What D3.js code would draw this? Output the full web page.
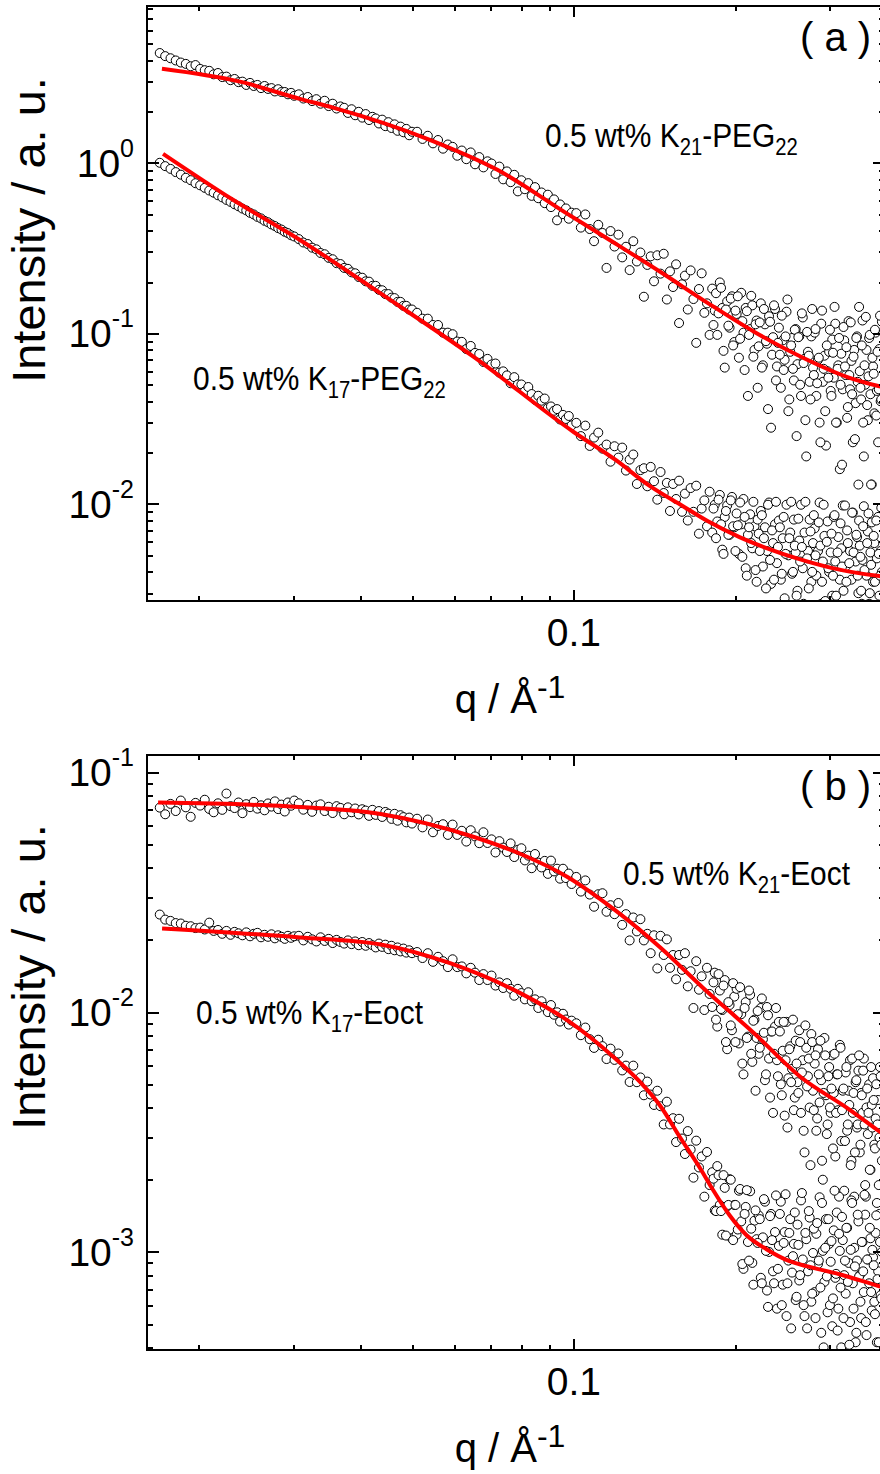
<!DOCTYPE html>
<html>
<head>
<meta charset="utf-8">
<script src="https://cdn.jsdelivr.net/npm/d3@7"></script>
<style>
  html, body { margin: 0; padding: 0; background: #fff; }
  svg { display: block; }
  text { font-family: "Liberation Sans", Arial, Helvetica, sans-serif; fill: #000; }
</style>
</head>
<body>
<svg id="chart" width="880" height="1474"></svg>
<script>
/* ══════════════════════════════════════════════════════
   SAXS curves, two log–log panels: (a) K-PEG22, (b) K-Eoct
   Open circles = measured intensity, red = model fit
══════════════════════════════════════════════════════ */

// ── Data ─────────────────────────────────────────────

// scattering vector q / Å^-1 (shared by all four series)
const Q = [
  0.0169,0.0173,0.0177,0.0181,0.0185,0.0189,0.0193,0.0197,0.0201,0.0205,0.0209,0.0213,0.0217,0.0221,0.0225,0.0229,0.0233,
  0.0237,0.0241,0.0245,0.0249,0.0253,0.0257,0.0261,0.0265,0.0269,0.0273,0.0277,0.0281,0.0285,0.0289,0.0293,0.0297,0.0301,
  0.0307,0.0313,0.0319,0.0325,0.0331,0.0337,0.0343,0.0349,0.0355,0.0361,0.0367,0.0373,0.0379,0.0385,0.0391,0.0397,0.0403,
  0.0409,0.0415,0.0421,0.0427,0.0433,0.0439,0.0445,0.0451,0.0457,0.0463,0.0469,0.0475,0.0481,0.0487,0.0493,0.0499,
  0.0510,0.0522,0.0534,0.0546,0.0558,0.0570,0.0582,0.0594,0.0606,0.0618,0.0630,0.0642,0.0654,0.0666,0.0678,0.0690,0.0702,
  0.0714,0.0726,0.0738,0.0750,0.0762,0.0774,0.0786,0.0798,0.0810,0.0822,0.0834,0.0846,0.0858,0.0870,0.0882,0.0894,0.0906,
  0.0918,0.0930,0.0942,0.0954,0.0966,0.0978,0.0990,
  0.101,0.103,0.105,0.107,0.109,0.111,0.113,0.115,0.117,0.119,
  0.121,0.123,0.125,0.127,0.129,0.131,0.133,0.135,0.137,0.139,
  0.141,0.143,0.145,0.147,0.149,0.151,0.153,0.155,0.157,0.159,
  0.161,0.163,0.165,0.167,0.169,0.171,0.173,0.175,0.177,0.179,
  0.181,0.183,0.185,0.187,0.189,0.191,0.193,0.195,0.197,0.199,
  0.201,0.203,0.205,0.207,0.209,0.211,0.213,0.215,0.217,0.219,
  0.221,0.223,0.225,0.227,0.229,0.231,0.233,0.235,0.237,0.239,
  0.241,0.243,0.245,0.247,0.249,0.251,0.253,0.255,0.257,0.259,
  0.261,0.263,0.265,0.267,0.269,0.271,0.273,0.275,0.277,0.279,
  0.281,0.283,0.285,0.287,0.289,0.291,0.293,0.295,0.297,0.299,
  0.301,0.303,0.305,0.307,0.309,0.311,0.313,0.315,0.317,0.319,
  0.321,0.323,0.325,0.327,0.329,0.331,0.333,0.335,0.337,0.339,
  0.341,0.343,0.345,0.347,0.349,0.351,0.353,0.355,0.357,0.359,
  0.361,0.363,0.365,0.367,0.369,0.371,0.373,0.375
];

// the noisy high-q end is sampled twice as densely
const Q_EXTRA = [
  0.182,0.184,0.186,0.188,0.190,0.192,0.194,0.196,0.198,0.200,
  0.202,0.204,0.206,0.208,0.210,0.212,0.214,0.216,0.218,0.220,
  0.222,0.224,0.226,0.228,0.230,0.232,0.234,0.236,0.238,0.240,
  0.242,0.244,0.246,0.248,0.250,0.252,0.254,0.256,0.258,0.260,
  0.262,0.264,0.266,0.268,0.270,0.272,0.274,0.276,0.278,0.280,
  0.282,0.284,0.286,0.288,0.290,0.292,0.294,0.296,0.298,0.300,
  0.302,0.304,0.306,0.308,0.310,0.312,0.314,0.316,0.318,0.320,
  0.322,0.324,0.326,0.328,0.330,0.332,0.334,0.336,0.338,0.340,
  0.342,0.344,0.346,0.348,0.350,0.352,0.354,0.356,0.358,0.360,
  0.362,0.364,0.366,0.368,0.370,0.372,0.374
];

// panel (a), 0.5 wt% K21-PEG22
const I_K21_PEG22 = [
  4.40,4.22,4.10,3.98,3.87,3.80,3.68,3.74,3.55,3.49,3.46,3.30,3.36,3.18,3.20,3.05,3.10,
  2.97,2.99,2.86,2.94,2.82,2.86,2.74,2.82,2.71,2.74,2.62,2.70,2.60,2.60,2.52,2.57,2.47,
  2.52,2.38,2.43,2.30,2.36,2.22,2.31,2.15,2.22,2.08,2.14,2.10,1.96,2.06,1.90,1.99,1.84,
  1.93,1.78,1.86,1.82,1.70,1.79,1.64,1.73,1.60,1.68,1.54,1.63,1.51,1.58,1.45,1.52,
  1.52,1.38,1.44,1.30,1.36,1.21,1.28,1.24,1.10,1.18,1.05,1.15,0.98,1.08,0.94,1.02,0.99,
  0.86,0.95,0.80,0.89,0.77,0.85,0.68,0.79,0.70,0.76,0.64,0.72,0.62,0.67,0.58,0.65,0.55,
  0.61,0.46,0.57,0.50,0.54,0.47,0.51,
  0.507,0.417,0.498,0.409,0.347,0.433,0.388,0.242,0.398,0.323,
  0.379,0.279,0.322,0.235,0.347,0.264,0.298,0.164,0.252,0.283,
  0.202,0.287,0.224,0.293,0.158,0.231,0.187,0.254,0.115,0.194,
  0.218,0.138,0.234,0.159,0.088,0.182,0.225,0.132,0.150,0.098,
  0.183,0.136,0.098,0.199,0.141,0.063,0.154,0.108,0.165,0.089,
  0.130,0.072,0.173,0.101,0.141,0.043,0.106,0.146,0.080,0.119,
  0.084,0.150,0.065,0.113,0.087,0.126,0.028,0.095,0.139,0.064,
  0.108,0.048,0.091,0.070,0.134,0.035,0.078,0.094,0.053,0.106,
  0.066,0.096,0.043,0.124,0.071,0.019,0.078,0.052,0.096,0.063,
  0.101,0.043,0.070,0.030,0.114,0.052,0.074,0.022,0.060,0.078,
  0.046,0.092,0.055,0.114,0.030,0.065,0.016,0.076,0.047,0.091,
  0.057,0.032,0.118,0.047,0.069,0.023,0.080,0.039,0.096,0.013,
  0.060,0.041,0.119,0.019,0.050,0.080,0.031,0.094,0.044,0.013,
  0.064,0.034,0.101,0.046,0.023,0.081,0.040,0.117
];
const I_K21_PEG22_EXTRA = [
  0.112,0.172,0.131,0.185,0.079,0.138,0.111,0.160,0.085,0.136,
  0.165,0.093,0.118,0.061,0.135,0.098,0.166,0.073,0.113,0.048,
  0.116,0.063,0.139,0.090,0.036,0.117,0.075,0.146,0.053,0.088,
  0.075,0.127,0.061,0.096,0.158,0.041,0.085,0.062,0.105,0.025,
  0.095,0.050,0.131,0.067,0.031,0.102,0.074,0.041,0.139,0.057,
  0.106,0.051,0.072,0.023,0.136,0.062,0.035,0.085,0.055,0.105,
  0.043,0.077,0.143,0.030,0.062,0.094,0.050,0.017,0.109,0.064,
  0.083,0.037,0.057,0.116,0.044,0.073,0.024,0.094,0.052,0.143,
  0.048,0.085,0.030,0.065,0.125,0.038,0.056,0.098,0.013,0.072,
  0.058,0.105,0.033,0.078,0.047,0.127,0.041
];

// panel (a), 0.5 wt% K17-PEG22
const I_K17_PEG22 = [
  1.00,0.956,0.921,0.882,0.852,0.817,0.791,0.759,0.738,0.713,0.688,0.668,0.645,0.627,0.606,0.590,0.571,
  0.556,0.539,0.526,0.509,0.498,0.482,0.472,0.457,0.448,0.435,0.426,0.414,0.406,0.394,0.387,0.376,0.370,
  0.357,0.341,0.334,0.318,0.311,0.296,0.291,0.277,0.272,0.258,0.255,0.242,0.239,0.228,0.225,0.214,0.212,
  0.202,0.201,0.190,0.190,0.180,0.179,0.170,0.170,0.162,0.161,0.153,0.153,0.145,0.145,0.138,0.138,
  0.132,0.122,0.122,0.112,0.112,0.101,0.101,0.0989,0.0896,0.0892,0.0809,0.0844,0.0768,0.0757,0.0680,0.0709,0.0657,
  0.0666,0.0589,0.0599,0.0567,0.0510,0.0554,0.0502,0.0502,0.0458,0.0485,0.0441,0.0408,0.0431,0.0403,0.0415,0.0365,0.0373,
  0.0352,0.0360,0.0313,0.0333,0.0315,0.0328,0.0289,
  0.0299,0.0250,0.0288,0.0219,0.0245,0.0262,0.0211,0.0223,0.0177,0.0218,
  0.0187,0.0214,0.0157,0.0182,0.0195,0.0131,0.0158,0.0162,0.0127,0.0165,
  0.0136,0.0106,0.0154,0.0116,0.0133,0.0091,0.0131,0.0107,0.0137,0.0090,
  0.0115,0.0080,0.0124,0.0090,0.0128,0.0067,0.0094,0.0105,0.0074,0.0118,
  0.0068,0.0099,0.0079,0.0113,0.0054,0.0084,0.0098,0.0066,0.0110,0.0073,
  0.0088,0.0051,0.0076,0.0107,0.0042,0.0066,0.0087,0.0055,0.0074,0.0035,
  0.0067,0.0091,0.0043,0.0073,0.0053,0.0102,0.0034,0.0059,0.0076,0.0045,
  0.0080,0.0036,0.0063,0.0028,0.0099,0.0050,0.0068,0.0039,0.0081,0.0052,
  0.0031,0.0061,0.0099,0.0042,0.0068,0.0023,0.0053,0.0081,0.0035,0.0059,
  0.0072,0.0038,0.0053,0.0102,0.0026,0.0046,0.0065,0.0018,0.0079,0.0040,
  0.0052,0.0029,0.0084,0.0046,0.0020,0.0064,0.0036,0.0055,0.0098,0.0025,
  0.0043,0.0070,0.0022,0.0053,0.0036,0.0089,0.0016,0.0046,0.0064,0.0030,
  0.0057,0.0031,0.0047,0.0097,0.0022,0.0038,0.0069,0.0026,0.0052,0.0078,
  0.0035,0.0059,0.0019,0.0048,0.0084,0.0029,0.0053,0.0040
];
const I_K17_PEG22_EXTRA = [
  0.0094,0.0063,0.0106,0.0076,0.0051,0.0091,0.0066,0.0105,0.0074,0.0053,
  0.0075,0.0102,0.0049,0.0084,0.0038,0.0073,0.0059,0.0103,0.0041,0.0081,
  0.0053,0.0086,0.0063,0.0032,0.0099,0.0047,0.0070,0.0036,0.0103,0.0056,
  0.0073,0.0039,0.0084,0.0051,0.0025,0.0063,0.0103,0.0040,0.0057,0.0029,
  0.0082,0.0046,0.0056,0.0026,0.0103,0.0048,0.0032,0.0069,0.0040,0.0086,
  0.0050,0.0022,0.0078,0.0057,0.0035,0.0099,0.0027,0.0060,0.0042,0.0017,
  0.0067,0.0038,0.0086,0.0029,0.0052,0.0022,0.0077,0.0043,0.0031,0.0098,
  0.0035,0.0059,0.0045,0.0024,0.0089,0.0052,0.0018,0.0066,0.0038,0.0080,
  0.0049,0.0026,0.0074,0.0041,0.0019,0.0059,0.0088,0.0030,0.0044,0.0022,
  0.0065,0.0035,0.0080,0.0025,0.0051,0.0038,0.0095
];

// panel (b), 0.5 wt% K21-Eoct
const I_K21_EOCT = [
  0.0712,0.0668,0.0738,0.0689,0.0762,0.0714,0.0652,0.0745,0.0726,0.0768,0.0703,0.0681,0.0742,0.0697,0.0815,0.0722,0.0709,
  0.0748,0.0675,0.0736,0.0715,0.0752,0.0705,0.0728,0.0694,0.0741,0.0719,0.0756,0.0702,0.0733,0.0686,0.0748,0.0725,0.0762,
  0.0742,0.0698,0.0731,0.0684,0.0726,0.0735,0.0689,0.0718,0.0676,0.0722,0.0710,0.0668,0.0714,0.0681,0.0706,0.0667,0.0701,
  0.0692,0.0658,0.0697,0.0664,0.0689,0.0651,0.0683,0.0672,0.0639,0.0671,0.0628,0.0662,0.0650,0.0618,0.0647,0.0611,
  0.0640,0.0589,0.0635,0.0562,0.0597,0.0607,0.0548,0.0605,0.0548,0.0570,0.0514,0.0573,0.0540,0.0506,0.0562,0.0507,0.0525,
  0.0463,0.0516,0.0485,0.0465,0.0505,0.0443,0.0475,0.0482,0.0429,0.0449,0.0398,0.0456,0.0420,0.0401,0.0427,0.0377,0.0428,
  0.0386,0.0396,0.0360,0.0396,0.0362,0.0378,0.0342,
  0.0366,0.0318,0.0354,0.0309,0.0275,0.0310,0.0313,0.0262,0.0279,0.0256,
  0.0285,0.0231,0.0256,0.0199,0.0248,0.0217,0.0244,0.0199,0.0212,0.0176,
  0.0209,0.0152,0.0208,0.0173,0.0201,0.0153,0.0173,0.0137,0.0173,0.0150,
  0.0176,0.0128,0.0148,0.0104,0.0163,0.0124,0.0141,0.0102,0.0153,0.0119,
  0.0105,0.0146,0.0087,0.0123,0.0102,0.0136,0.0070,0.0107,0.0084,0.0116,
  0.0125,0.0074,0.0098,0.0055,0.0110,0.0079,0.0118,0.0062,0.0093,0.0078,
  0.0067,0.0104,0.0077,0.0052,0.0105,0.0064,0.0083,0.0038,0.0087,0.0063,
  0.0091,0.0050,0.0069,0.0037,0.0091,0.0053,0.0072,0.0058,0.0039,0.0076,
  0.0051,0.0084,0.0038,0.0063,0.0026,0.0071,0.0054,0.0040,0.0081,0.0047,
  0.0061,0.0032,0.0070,0.0042,0.0052,0.0020,0.0078,0.0045,0.0034,0.0059,
  0.0038,0.0066,0.0046,0.0025,0.0055,0.0039,0.0073,0.0029,0.0047,0.0018,
  0.0056,0.0032,0.0047,0.0063,0.0024,0.0038,0.0017,0.0051,0.0033,0.0057,
  0.0026,0.0046,0.0038,0.0064,0.0019,0.0040,0.0031,0.0050,0.0022,0.0041,
  0.0053,0.0028,0.0036,0.0016,0.0043,0.0030,0.0054,0.0024
];
const I_K21_EOCT_EXTRA = [
  0.0133,0.0093,0.0144,0.0103,0.0129,0.0075,0.0110,0.0088,0.0132,0.0075,
  0.0098,0.0127,0.0061,0.0104,0.0078,0.0123,0.0067,0.0092,0.0047,0.0101,
  0.0071,0.0114,0.0082,0.0055,0.0097,0.0044,0.0083,0.0067,0.0104,0.0054,
  0.0083,0.0045,0.0091,0.0063,0.0033,0.0070,0.0051,0.0093,0.0044,0.0061,
  0.0046,0.0075,0.0056,0.0032,0.0088,0.0049,0.0064,0.0023,0.0075,0.0039,
  0.0066,0.0036,0.0055,0.0076,0.0024,0.0046,0.0066,0.0031,0.0054,0.0040,
  0.0048,0.0027,0.0067,0.0038,0.0055,0.0017,0.0071,0.0039,0.0048,0.0029,
  0.0059,0.0034,0.0041,0.0023,0.0064,0.0046,0.0026,0.0052,0.0034,0.0066,
  0.0028,0.0045,0.0057,0.0034,0.0017,0.0048,0.0038,0.0022,0.0059,0.0033,
  0.0043,0.0027,0.0050,0.0034,0.0019,0.0059,0.0028
];

// panel (b), 0.5 wt% K17-Eoct
const I_K17_EOCT = [
  0.0255,0.0243,0.0240,0.0235,0.0234,0.0229,0.0228,0.0224,0.0225,0.0221,0.0236,0.0218,0.0220,0.0212,0.0218,0.0210,0.0216,
  0.0213,0.0209,0.0215,0.0207,0.0212,0.0214,0.0205,0.0210,0.0206,0.0211,0.0203,0.0209,0.0206,0.0202,0.0208,0.0204,0.0207,
  0.0208,0.0199,0.0206,0.0201,0.0197,0.0205,0.0198,0.0202,0.0194,0.0200,0.0196,0.0193,0.0199,0.0192,0.0197,0.0190,0.0196,
  0.0189,0.0194,0.0190,0.0186,0.0193,0.0187,0.0191,0.0183,0.0189,0.0181,0.0186,0.0179,0.0184,0.0177,0.0181,0.0176,
  0.0178,0.0168,0.0176,0.0162,0.0170,0.0163,0.0154,0.0166,0.0154,0.0155,0.0145,0.0153,0.0146,0.0136,0.0144,0.0136,0.0142,
  0.0129,0.0133,0.0126,0.0132,0.0125,0.0117,0.0125,0.0120,0.0113,0.0121,0.0111,0.0113,0.0104,0.0111,0.0105,0.0100,0.0107,
  0.00975,0.00998,0.00913,0.00984,0.00931,0.00887,0.00921,
  0.00898,0.00801,0.00862,0.00771,0.00709,0.00767,0.00721,0.00637,0.00704,0.00632,
  0.00672,0.00571,0.00598,0.00511,0.00598,0.00510,0.00534,0.00450,0.00513,0.00453,
  0.00410,0.00470,0.00405,0.00340,0.00423,0.00340,0.00361,0.00287,0.00359,0.00297,
  0.00256,0.00319,0.00267,0.00204,0.00291,0.00225,0.00250,0.00170,0.00261,0.00190,
  0.00215,0.00149,0.00228,0.00157,0.00118,0.00185,0.00155,0.00201,0.00114,0.00157,
  0.00118,0.00180,0.00134,0.00085,0.00154,0.00110,0.00179,0.00090,0.00135,0.00113,
  0.00142,0.00078,0.00115,0.00162,0.00069,0.00100,0.00144,0.00083,0.00121,0.00058,
  0.00106,0.00162,0.00073,0.00121,0.00054,0.00092,0.00137,0.00082,0.00108,0.00063,
  0.00130,0.00076,0.00164,0.00093,0.00054,0.00113,0.00083,0.00139,0.00062,0.00099,
  0.00068,0.00119,0.00089,0.00169,0.00046,0.00101,0.00075,0.00137,0.00056,0.00108,
  0.00091,0.00049,0.00123,0.00078,0.00146,0.00058,0.00101,0.00040,0.00112,0.00080,
  0.00067,0.00126,0.00090,0.00051,0.00164,0.00074,0.00104,0.00042,0.00092,0.00134,
  0.00080,0.00053,0.00110,0.00068,0.00143,0.00045,0.00093,0.00074,0.00114,0.00057,
  0.00095,0.00062,0.00120,0.00042,0.00083,0.00144,0.00066,0.00100
];
const I_K17_EOCT_EXTRA = [
  0.00202,0.00148,0.00209,0.00148,0.00209,0.00117,0.00157,0.00200,0.00112,0.00157,
  0.00124,0.00183,0.00089,0.00144,0.00181,0.00092,0.00125,0.00073,0.00149,0.00109,
  0.00137,0.00074,0.00166,0.00101,0.00059,0.00141,0.00112,0.00074,0.00172,0.00085,
  0.00144,0.00060,0.00109,0.00174,0.00074,0.00120,0.00048,0.00096,0.00146,0.00065,
  0.00107,0.00080,0.00176,0.00060,0.00120,0.00048,0.00148,0.00088,0.00067,0.00125,
  0.00053,0.00132,0.00092,0.00071,0.00160,0.00040,0.00104,0.00079,0.00137,0.00060,
  0.00111,0.00064,0.00180,0.00081,0.00047,0.00119,0.00071,0.00140,0.00053,0.00092,
  0.00126,0.00075,0.00041,0.00102,0.00160,0.00058,0.00087,0.00046,0.00143,0.00079,
  0.00062,0.00110,0.00083,0.00173,0.00051,0.00093,0.00037,0.00126,0.00068,0.00102,
  0.00088,0.00055,0.00142,0.00077,0.00042,0.00110,0.00064
];

// model fits (red curves), read at their bends
const FIT_Q_K21_PEG22 = [0.01706,0.02384,0.03085,0.03568,0.05327,0.07198,0.09725,0.1188,0.1450,0.1774,0.2170,0.2649,0.3234,0.3709,0.379];
const FIT_I_K21_PEG22 = [3.56,2.99,2.37,2.10,1.383,0.910,0.502,0.340,0.229,0.151,0.102,0.073,0.0555,0.0490,0.0482];

const FIT_Q_K17_PEG22 = [0.01714,0.02314,0.03085,0.04346,0.06503,0.09986,0.1196,0.1384,0.1594,0.1774,0.2035,0.2285,0.2632,0.3032,0.3709,0.379];
const FIT_I_K17_PEG22 = [1.129,0.607,0.353,0.1726,0.0728,0.02642,0.01811,0.01276,0.00973,0.00794,0.00640,0.00552,0.00475,0.00421,0.00378,0.00375];

const FIT_Q_K21_EOCT = [0.01678,0.02917,0.04361,0.06512,0.07957,0.09725,0.1188,0.1452,0.1737,0.2169,0.2649,0.3237,0.3709,0.379];
const FIT_I_K21_EOCT = [0.0747,0.0721,0.0670,0.0537,0.0456,0.0366,0.0268,0.0185,0.01267,0.00814,0.00535,0.00397,0.00318,0.00307];

const FIT_Q_K17_EOCT = [0.01707,0.03085,0.04361,0.05894,0.07957,0.09725,0.1188,0.1325,0.1450,0.1573,0.1714,0.1813,0.1950,0.2098,0.2285,0.2522,0.2713,0.3125,0.3709,0.379];
const FIT_I_K17_EOCT = [0.02233,0.02048,0.01915,0.01595,0.01197,0.00923,0.00647,0.00514,0.00405,0.00303,0.002254,0.001825,0.001422,0.001174,0.001026,0.000915,0.000872,0.000807,0.000719,0.000709];

// axes
const X_DOMAIN   = [0.016, 0.38];
const Y_DOMAIN_A = [0.0027, 8.3];
const Y_DOMAIN_B = [0.00039, 0.118];
const X_MAJOR = [0.1];
const X_TICK_LABELS = ['0.1'];
const Y_MAJOR_A = [0.01, 0.1, 1];
const Y_EXP_A   = ['-2', '-1', '0'];
const Y_MAJOR_B = [0.001, 0.01, 0.1];
const Y_EXP_B   = ['-3', '-2', '-1'];

// texts
const Y_TITLE = 'Intensity / a. u.';
const X_TITLE = ['q / Å', '-1'];
const NAME_K21_PEG22 = ['0.5 wt% K', '21', '-PEG', '22'];
const NAME_K17_PEG22 = ['0.5 wt% K', '17', '-PEG', '22'];
const NAME_K21_EOCT  = ['0.5 wt% K', '21', '-Eoct'];
const NAME_K17_EOCT  = ['0.5 wt% K', '17', '-Eoct'];
const TAGS = ['( a )', '( b )'];

[[I_K21_PEG22, Q], [I_K17_PEG22, Q], [I_K21_EOCT, Q], [I_K17_EOCT, Q],
 [I_K21_PEG22_EXTRA, Q_EXTRA], [I_K17_PEG22_EXTRA, Q_EXTRA], [I_K21_EOCT_EXTRA, Q_EXTRA], [I_K17_EOCT_EXTRA, Q_EXTRA]]
  .forEach(([s, q], i) => {
    if (s.length !== q.length) throw new Error(`series ${i}: ${s.length} values vs ${q.length} q`);
  });

// ── Layout ───────────────────────────────────────────

const L = 147, R = 885;

const svg = d3.select('#chart');

const x = d3.scaleLog().domain(X_DOMAIN).range([L, R]);

const PANELS = [
  {
    top: 6, bottom: 601, yDomain: Y_DOMAIN_A, yMajor: Y_MAJOR_A, yExp: Y_EXP_A,
    series: [[I_K21_PEG22, I_K21_PEG22_EXTRA], [I_K17_PEG22, I_K17_PEG22_EXTRA]],
    fits: [[FIT_Q_K21_PEG22, FIT_I_K21_PEG22], [FIT_Q_K17_PEG22, FIT_I_K17_PEG22]],
    notes: [{ parts: NAME_K21_PEG22, x: 545, y: 147 }, { parts: NAME_K17_PEG22, x: 193, y: 390 }],
    tag: TAGS[0], titleY: 230
  },
  {
    top: 755, bottom: 1350, yDomain: Y_DOMAIN_B, yMajor: Y_MAJOR_B, yExp: Y_EXP_B,
    series: [[I_K21_EOCT, I_K21_EOCT_EXTRA], [I_K17_EOCT, I_K17_EOCT_EXTRA]],
    fits: [[FIT_Q_K21_EOCT, FIT_I_K21_EOCT], [FIT_Q_K17_EOCT, FIT_I_K17_EOCT]],
    notes: [{ parts: NAME_K21_EOCT, x: 623, y: 885 }, { parts: NAME_K17_EOCT, x: 196, y: 1024 }],
    tag: TAGS[1], titleY: 977
  }
];

PANELS.forEach((p, pi) => drawPanel(p, pi));

// ── Panel ────────────────────────────────────────────

function drawPanel(p, pi) {
  const T = p.top, B = p.bottom;
  const y = d3.scaleLog().domain(p.yDomain).range([B, T]);
  const g = svg.append('g');

  const isDecade = v => Math.abs(Math.log10(v) - Math.round(Math.log10(v))) < 1e-6;
  const yMinor = y.ticks().filter(v => !isDecade(v));
  const xMinor = x.ticks().filter(v => !X_MAJOR.some(m => Math.abs(m - v) < 1e-9));

  // clip to the frame
  const clipId = `clip-${pi}`;
  g.append('clipPath').attr('id', clipId)
    .append('rect').attr('x', L).attr('y', T).attr('width', R - L).attr('height', B - T);

  const plot = g.append('g').attr('clip-path', `url(#${clipId})`);

  // ── Points ─────────────────────────────────────────
  p.series.forEach(([vals, extra]) => {
    const pts = Q.map((q, i) => [q, vals[i]])
      .concat(Q_EXTRA.map((q, i) => [q, extra[i]]));
    plot.append('g').selectAll('circle')
      .data(pts)
      .join('circle')
        .attr('cx', d => x(d[0]))
        .attr('cy', d => y(d[1]))
        .attr('r', 4.5)
        .attr('fill', '#fff')
        .attr('stroke', '#000')
        .attr('stroke-width', 1);
  });

  // ── Fits ───────────────────────────────────────────
  const line = d3.line()
    .x(d => x(d[0]))
    .y(d => y(d[1]))
    .curve(d3.curveMonotoneX);

  p.fits.forEach(([fq, fi]) => {
    plot.append('path')
      .datum(fq.map((q, i) => [q, fi[i]]))
      .attr('d', line)
      .attr('fill', 'none')
      .attr('stroke', '#ff0000')
      .attr('stroke-width', 4)
      .attr('stroke-linejoin', 'round');
  });

  // ── Ticks (all pointing inward) ───────────────────
  const tickStyle = sel => sel
    .call(ax => ax.select('.domain').remove())
    .call(ax => ax.selectAll('line').attr('stroke', '#000').attr('stroke-width', 2).attr('shape-rendering', 'crispEdges'));

  const addAxis = (axis, tx, ty) =>
    g.append('g').attr('transform', `translate(${tx},${ty})`).call(axis).call(tickStyle);

  addAxis(d3.axisLeft(y).tickValues(p.yMajor).tickSize(-12).tickFormat(''), L, 0);
  addAxis(d3.axisLeft(y).tickValues(yMinor).tickSize(-6).tickFormat(''), L, 0);
  addAxis(d3.axisRight(y).tickValues(p.yMajor).tickSize(-12).tickFormat(''), R, 0);
  addAxis(d3.axisRight(y).tickValues(yMinor).tickSize(-6).tickFormat(''), R, 0);
  addAxis(d3.axisBottom(x).tickValues(X_MAJOR).tickSize(-11).tickFormat(''), 0, B);
  addAxis(d3.axisBottom(x).tickValues(xMinor).tickSize(-5).tickFormat(''), 0, B);
  addAxis(d3.axisTop(x).tickValues(X_MAJOR).tickSize(-11).tickFormat(''), 0, T);
  addAxis(d3.axisTop(x).tickValues(xMinor).tickSize(-5).tickFormat(''), 0, T);

  // frame
  g.append('rect')
    .attr('x', L).attr('y', T).attr('width', R - L).attr('height', B - T)
    .attr('fill', 'none').attr('stroke', '#000').attr('stroke-width', 2)
    .attr('shape-rendering', 'crispEdges');

  // ── Tick labels ───────────────────────────────────
  p.yMajor.forEach((v, i) => {
    const t = g.append('text')
      .attr('x', 134).attr('y', y(v) + 14)
      .attr('text-anchor', 'end')
      .attr('font-size', 39);
    t.append('tspan').text('10');
    t.append('tspan').attr('font-size', 25).attr('dy', -20).text(p.yExp[i]);
  });

  X_MAJOR.forEach((v, i) => {
    g.append('text')
      .attr('x', x(v)).attr('y', B + 45)
      .attr('text-anchor', 'middle')
      .attr('font-size', 39)
      .text(X_TICK_LABELS[i]);
  });

  // ── Axis titles ───────────────────────────────────
  const xt = g.append('text')
    .attr('x', 510).attr('y', B + 112)
    .attr('text-anchor', 'middle')
    .attr('font-size', 40);
  xt.append('tspan').text(X_TITLE[0]);
  xt.append('tspan').attr('font-size', 32).attr('dy', -15).text(X_TITLE[1]);

  g.append('text')
    .attr('transform', `translate(45,${p.titleY}) rotate(-90)`)
    .attr('text-anchor', 'middle')
    .attr('font-size', 47)
    .text(Y_TITLE);

  // ── Annotations ───────────────────────────────────
  g.append('text')
    .attr('x', 800).attr('y', T + 45)
    .attr('font-size', 40)
    .text(p.tag);

  // sample names are set slightly condensed, as in the original figure
  p.notes.forEach(n => {
    const t = g.append('text')
      .attr('transform', `translate(${n.x},${n.y}) scale(0.88,1)`)
      .attr('font-size', 34);
    n.parts.forEach((part, k) => {
      const ts = t.append('tspan').text(part);
      if (k % 2 === 1) ts.attr('font-size', 23).attr('dy', 8);
      else if (k > 0) ts.attr('dy', -8);
    });
  });
}
</script>
</body>
</html>
